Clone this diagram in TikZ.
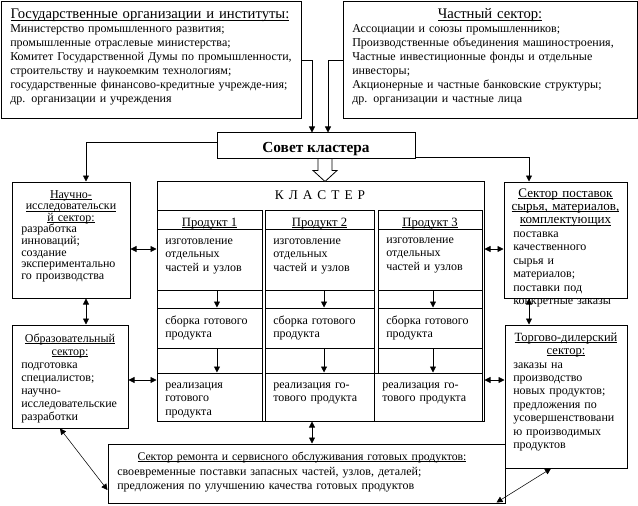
\documentclass[tikz,border=0pt]{standalone}
\usepackage{fontspec}
\setmainfont{Liberation Serif}
\usetikzlibrary{arrows.meta,calc,fit}
\newcommand\ulx[1]{\leavevmode\setbox0\hbox{#1}\rlap{\rule[-1.3pt]{\wd0}{0.55pt}}\box0}
\newcommand\fz[1]{\fontsize{9}{#1}\selectfont}
\begin{document}
\begin{tikzpicture}[x=0.75pt,y=-0.75pt,
  box/.style={draw, inner sep=0pt, line width=0.75pt},
  tl/.style={inner sep=0pt, anchor=base west, align=left, text width=#1},
  tc/.style={inner sep=0pt, anchor=base, align=center, text width=#1},
  ftri/.tip={Triangle[length=4.5pt,width=4.5pt]},
  arr/.style={-ftri, line width=0.6pt},
  darr/.style={ftri-ftri, line width=0.6pt},
  dthin/.style={ftri-ftri, line width=0.4pt}]
\useasboundingbox (0,0) rectangle (638,506);
% top boxes
\node[box, fit={(1,2)(301,119)}] (gov) {};
\node[tc=220pt, font=\fontsize{11}{12}\selectfont] (govt) at (150,19) {\ulx{Государственные организации и институты:}};
\node[tl=230pt, font=\fz{10.5}] (govb) at (10,33) {Министерство промышленного развития;\\промышленные отраслевые министерства;\\Комитет Государственной Думы по промышленности,\\строительству и наукоемким технологиям;\\государственные финансово-кредитные учрежде-ния;\\др. организации и учреждения};
\node[box, fit={(343,2)(637,119)}] (priv) {};
\node[tc=200pt, font=\fontsize{11}{12}\selectfont] (privt) at (490,19) {\ulx{Частный сектор:}};
\node[tl=240pt, font=\fz{10.5}] (privb) at (352,33) {Ассоциации и союзы промышленников;\\Производственные объединения машиностроения,\\\makebox[206.25pt][s]{Частные инвестиционные фонды и отдельные}\\инвесторы;\\Акционерные и частные банковские структуры;\\др. организации и частные лица};
% council
\node[box, fit={(217,133)(415,158)}] (council) {};
\node[inner sep=0pt, anchor=base, font=\fontsize{11.5}{13}\selectfont\bfseries] (councilt) at (316,152) {Совет кластера};
% cluster
\node[box, fit={(157,181)(484,421)}] (clu) {};
\node[inner sep=0pt, anchor=base, font=\fontsize{10}{12}\selectfont] (clut) at (320,199) {К\hspace{3.75pt}Л\hspace{3.75pt}А\hspace{3.75pt}С\hspace{3.75pt}Т\hspace{3.75pt}Е\hspace{3.75pt}Р};
\node[box, fit={(157,210)(262,421)}] (col1) {};
\node[box, fit={(265,210)(374,421)}] (col2) {};
\node[box, fit={(378,210)(482,373)}] (col3) {};
\node[box, fit={(157,210)(262,229)}] (h1) {};
\node[box, fit={(265,210)(374,229)}] (h2) {};
\node[box, fit={(378,210)(482,229)}] (h3) {};
\node[box, fit={(157,229)(262,290)}] (r11) {};
\node[box, fit={(157,308)(262,348)}] (r12) {};
\node[box, fit={(157,373)(262,421)}] (r13) {};
\node[box, fit={(265,229)(374,290)}] (r21) {};
\node[box, fit={(265,308)(374,348)}] (r22) {};
\node[box, fit={(265,373)(374,421)}] (r23) {};
\node[box, fit={(378,229)(482,290)}] (r31) {};
\node[box, fit={(378,308)(482,348)}] (r32) {};
\node[box, fit={(374,373)(482,421)}] (r33) {};
\node[inner sep=0pt, anchor=base, font=\fontsize{9.5}{11}\selectfont] (h1t) at (209.5,226) {\ulx{Продукт 1}};
\node[inner sep=0pt, anchor=base, font=\fontsize{9.5}{11}\selectfont] (h2t) at (319.5,226) {\ulx{Продукт 2}};
\node[inner sep=0pt, anchor=base, font=\fontsize{9.5}{11}\selectfont] (h3t) at (430,226) {\ulx{Продукт 3}};
\node[tl=75pt, font=\fz{10.3}] (r11t) at (165,244) {изготовление\\отдельных\\частей и узлов};
\node[tl=75pt, font=\fz{10.3}] (r21t) at (273,244) {изготовление\\отдельных\\частей и узлов};
\node[tl=75pt, font=\fz{10.3}] (r31t) at (386,243) {изготовление\\отдельных\\частей и узлов};
\node[tl=75pt, font=\fz{10.3}] (r12t) at (165,324) {сборка готового\\продукта};
\node[tl=75pt, font=\fz{10.3}] (r22t) at (273,324) {сборка готового\\продукта};
\node[tl=75pt, font=\fz{10.3}] (r32t) at (386,324) {сборка готового\\продукта};
\node[tl=75pt, font=\fz{10.3}] (r13t) at (165,388) {реализация\\готового\\продукта};
\node[tl=75pt, font=\fz{10.3}] (r23t) at (273,388) {реализация го-\\тового продукта};
\node[tl=75pt, font=\fz{10.3}] (r33t) at (382,388) {реализация го-\\тового продукта};
\draw[arr] ([xshift=5.6pt]r11.south) -- ([xshift=5.6pt]r12.north);
\draw[arr] ([xshift=5.6pt]r12.south) -- ([xshift=5.6pt]r13.north);
\draw[arr] ([xshift=3.4pt]r21.south) -- ([xshift=3.4pt]r22.north);
\draw[arr] ([xshift=3.4pt]r22.south) -- ([xshift=3.4pt]r23.north);
\draw[arr] ([xshift=2.25pt]r31.south) -- ([xshift=2.25pt]r32.north);
\draw[arr] ([xshift=2.25pt]r32.south) -- ([xshift=2.25pt]r33.north -| r32.south);
% side boxes
\node[box, fit={(12,182)(130,298)}] (sci) {};
\node[tc=85pt, font=\fz{8.7}] (scit) at (71,198) {\ulx{Научно-}\\\ulx{исследовательски}\\\ulx{й сектор:}};
\node[tl=85pt, font=\fz{8.7}] (scib) at (21,232.8) {разработка\\инноваций;\\создание\\экспериментально\\го производства};
\node[box, fit={(12,325)(128,428)}] (edu) {};
\node[tc=85pt, font=\fz{9.75}] (edut) at (70,342) {\ulx{Образовательный}\\\ulx{сектор:}};
\node[tl=85pt, font=\fz{9.75}] (edub) at (21,368) {подготовка\\специалистов;\\научно-\\исследовательские\\разработки};
\node[box, fit={(504,182)(627,298)}] (sup) {};
\node[tc=90pt, font=\fontsize{9.8}{10.1}\selectfont] (supt) at (565.5,197) {\ulx{Сектор поставок}\\\ulx{сырья, материалов,}\\\ulx{комплектующих}};
\node[tl=85pt, font=\fz{10.1}] (supb) at (513,237.5) {поставка\\качественного\\сырья и\\материалов;\\поставки под\\конкретные заказы};
\node[box, fit={(505,325)(627,468)}] (trade) {};
\node[tc=90pt, font=\fontsize{9.4}{10.1}\selectfont] (tradet) at (566,341) {\ulx{Торгово-дилерский}\\\ulx{сектор:}};
\node[tl=85pt, font=\fz{10.1}] (tradeb) at (513,368) {заказы на\\производство\\новых продуктов;\\предложения по\\усовершенствовани\\ю производимых\\продуктов};
\node[box, fit={(108,444)(505,503)}] (bot) {};
\node[tc=290pt, font=\fontsize{8.8}{10.9}\selectfont] (bott) at (302,460) {\ulx{Сектор ремонта и сервисного обслуживания готовых продуктов:}};
\node[tl=285pt, font=\fz{10.9}] (botb) at (117,475) {своевременные поставки запасных частей, узлов, деталей;\\предложения по улучшению качества готовых продуктов};
% connectors
\draw[arr] (gov.east) -| ($(council.north)+(-4,0)$);
\draw[arr] (priv.west) -| ($(council.north)+(12,0)$);
\draw[arr] ($(council.north west)!0.4!(council.south west)$) -| ($(sci.north)+(15,0)$);
\draw[arr] ($(council.south east)+(0,-1)$) -| ($(sup.north)+(-36.5,0)$);
\coordinate (ha) at ($(council.south)+(9,0)$);
\draw[line width=0.6pt, fill=white] (ha) ++(-7,0) -- ++(14,0) -- ++(0,12) -- ++(5,0) -- ++(-12,11) -- ++(-12,-11) -- ++(5,0) -- cycle;
\coordinate (a1) at ($(sci.east)+(0,9)$);
\draw[darr] (a1) -- (a1 -| clu.west);
\coordinate (a2) at ($(edu.east)+(0,3.5)$);
\draw[darr] (a2) -- (a2 -| clu.west);
\coordinate (b1) at ($(sup.west)+(0,9)$);
\draw[darr] (b1 -| clu.east) -- (b1);
\coordinate (b2) at ($(trade.west)+(0,-16.5)$);
\draw[darr] (b2 -| clu.east) -- (b2);
\coordinate (c1) at ($(sci.south)+(15,0)$);
\draw[darr] (c1) -- (c1 |- edu.north);
\coordinate (d1) at ($(sup.south)+(-36.5,0)$);
\draw[darr] (d1) -- (d1 |- trade.north);
\coordinate (e1) at ($(clu.south)+(-8.5,0)$);
\draw[darr] (e1) -- (e1 |- bot.north);
\draw[dthin] ($(edu.south)+(-10,0)$) -- ($(bot.west)+(0,16.5)$);
\draw[dthin] ($(trade.south)+(-15,0)$) -- ($(bot.south east)+(-9,-1)$);
\end{tikzpicture}
\end{document}
